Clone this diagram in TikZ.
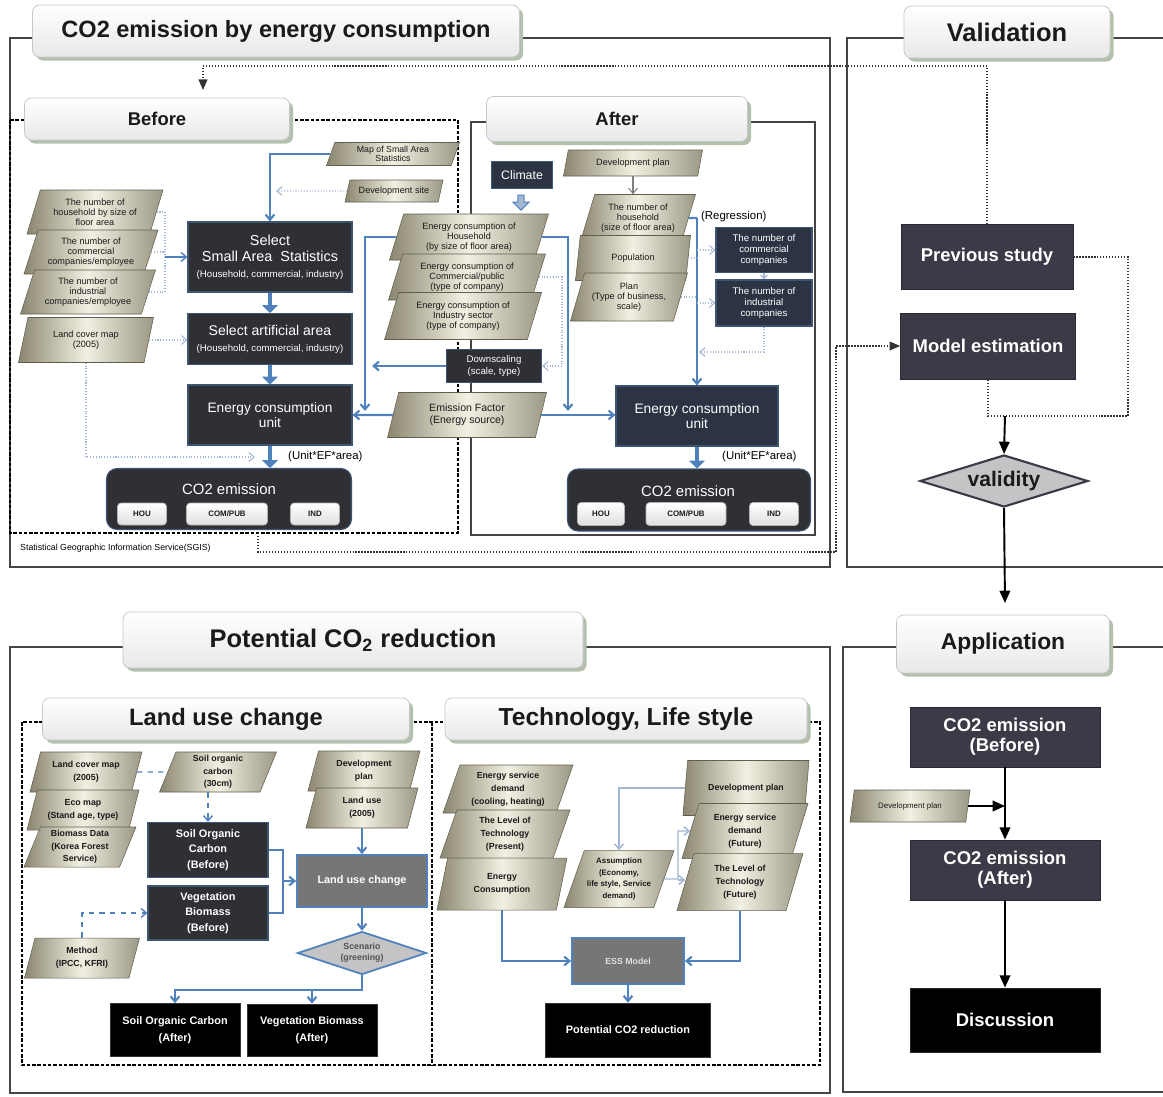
\documentclass[tikz,border=0pt]{standalone}
\usepackage{fontspec}
\setmainfont{Liberation Sans}
\usetikzlibrary{arrows.meta,positioning,shapes.geometric,shapes.arrows,shadows}
\definecolor{ink}{HTML}{1A1A1A}
\definecolor{boxdk}{HTML}{2F3034}
\definecolor{boxnv}{HTML}{2C3444}
\definecolor{boxvl}{HTML}{3B3A46}
\definecolor{flow}{HTML}{4F81BD}
\definecolor{flowlt}{HTML}{A3B6D3}
\definecolor{paradk}{HTML}{8A8670}
\definecolor{paralt}{HTML}{F2F0E2}
\definecolor{frame}{HTML}{444444}
\definecolor{shade}{HTML}{B3C0AC}
\definecolor{gbox}{HTML}{767676}
\definecolor{gdia}{HTML}{C4C4C6}
\newcommand{\fsz}[2]{\fontsize{#1}{#2}\selectfont}

\begin{document}
\begin{tikzpicture}[x=0.02cm,y=-0.02cm,
  sz/.style 2 args={minimum width=#1*0.02cm,minimum height=#2*0.02cm},
  para/.style={trapezium,trapezium left angle=65,trapezium right angle=115,trapezium stretches body,
    inner sep=0.5pt,align=center,draw=paradk!70!black,line width=0.3pt,
    left color=paradk,right color=paradk!85,middle color=paralt,text=ink,font=\fsz{5.2}{5.7}},
  lb/.style={font=\bfseries\fsz{5}{7.2}},
  tb/.style={font=\bfseries\fsz{5}{7.5}},
  dbox/.style={fill=boxdk,draw=flow!45!boxdk,line width=0.6pt,text=white,align=center,inner sep=1pt},
  kbox/.style={fill=black,draw=black!80,text=white,align=center,inner sep=1pt,font=\bfseries\fsz{6.2}{9.5}},
  vbox/.style={fill=boxvl,draw=boxvl!70!black,text=white,align=center,font=\bfseries\fsz{10.5}{11.5}},
  gbx/.style={fill=gbox,draw=flow,line width=1pt,text=white,align=center},
  wbox/.style={rounded corners=2pt,top color=white,bottom color=gray!25,draw=gray!60,text=ink,font=\bfseries\fsz{4.5}{5}},
  ttl/.style={rounded corners=4pt,draw=gray!45,top color=white,bottom color=gray!18,text=ink,
    drop shadow={shadow xshift=2pt,shadow yshift=-2pt,fill=shade,opacity=1},font=\bfseries\fsz{13.4}{15}},
  frm/.style={draw=frame,line width=0.8pt},
  dfrm/.style={draw=black,line width=0.9pt,dash pattern=on 2pt off 1pt},
  fat/.style={draw=flow,line width=2.4pt,-{Triangle[length=4.5pt,width=9pt]}},
  fl/.style={draw=flow,line width=1.2pt},
  fla/.style={fl,-{Straight Barb[length=3pt,width=5pt]}},
  dt/.style={draw=flowlt,line width=0.6pt,densely dotted},
  dta/.style={dt,-{Straight Barb[length=3pt,width=5pt]}},
  lt/.style={draw=flowlt,line width=0.8pt},
  lta/.style={lt,-{Straight Barb[length=3pt,width=5pt]}},
  dsh/.style={draw=flow,line width=0.8pt,dashed},
  bd/.style={draw=black!80,line width=0.7pt,densely dotted},
  bda/.style={bd,-{Triangle[length=6pt,width=5pt]}},
  ba/.style={draw=black,line width=1.1pt,-{Triangle[length=7pt,width=6pt]}}]
  \useasboundingbox (0,0) rectangle (1163,1096);

  % frames
  \draw[frm] (10,38) rectangle (830,567);
  \draw[frm] (1163,38) -- (847,38) -- (847,567) -- (1163,567);
  \draw[frm] (10,647) rectangle (830,1093);
  \draw[frm] (1163,647) -- (843,647) -- (843,1092) -- (1163,1092);
  \draw[dfrm] (10,120) rectangle (458,533);
  \draw[frm,line width=0.6pt] (471,122) rectangle (815,535);
  \draw[dfrm] (22,722) rectangle (820,1065);
  \draw[dfrm] (432,722) -- (432,1065);

  % titles
  \node[ttl,sz={487}{52}] (tco) at (276,31) {CO2 emission by energy consumption};
  \node[ttl,sz={265}{42},font=\bfseries\fsz{10.5}{11}] (tbef) at (157,119) {Before};
  \node[ttl,sz={261}{45},font=\bfseries\fsz{10.5}{11}] (taft) at (617,119) {After};
  \node[ttl,sz={206}{52},font=\bfseries\fsz{14.5}{16}] (tval) at (1007,32) {Validation};
  \node[ttl,sz={460}{56},font=\bfseries\fsz{14.5}{16}] (tpot) at (353,640) {Potential CO\textsubscript{2} reduction};
  \node[ttl,sz={367}{42},font=\bfseries\fsz{13.5}{15}] (tlnd) at (226,719) {Land use change};
  \node[ttl,sz={362}{42},font=\bfseries\fsz{14}{15}] (ttec) at (626,719) {Technology, Life style};
  \node[ttl,sz={213}{58},font=\bfseries\fsz{13}{15}] (tapp) at (1003,644) {Application};

  % ---- before ----
  \node[para,sz={136}{44}] (nhh) at (95,212) {The number of\\household by size of\\floor area};
  \node[para,sz={134}{44}] (ncm) at (91,252) {The number of\\commercial\\companies/employee};
  \node[para,sz={135}{44}] (nin) at (88,292) {The number of\\industrial\\companies/employee};
  \node[para,sz={135}{45}] (lcm) at (86,340) {Land cover map\\(2005)};
  \node[dbox,sz={164}{70},font=\fsz{8.2}{9}] (sel) at (270,257) {Select\\Small Area\ \ Statistics\\{\fsz{5.5}{6.5}(Household, commercial, industry)}};
  \node[dbox,sz={164}{51},font=\fsz{8}{9}] (art) at (270,339) {Select artificial area\\{\fsz{5.5}{6.5}(Household, commercial, industry)}};
  \node[dbox,sz={164}{60},font=\fsz{7.8}{8.5}] (ecu) at (270,415) {Energy consumption\\unit};
  \node[dbox,rounded corners=6pt,sz={245}{61}] (co2b) at (229,499) {};
  \node[text=white,font=\fsz{8.5}{9}] (co2bt) at (229,489) {CO2 emission};
  \foreach \nm/\cx/\w/\t in {hou1/142/49/HOU,cpb1/227/81/{COM/PUB},ind1/315/49/IND}
    \node[wbox,sz={\w}{22}] (\nm) at (\cx,514) {\t};
  \node[para,sz={133}{23},font=\fsz{5}{5.5}] (msa) at (393,154) {Map of Small Area\\Statistics};
  \node[para,sz={98}{22}] (dst) at (394,191) {Development site};
  \node[para,sz={159}{46}] (ech) at (469,237) {Energy consumption of\\Household\\(by size of floor area)};
  \node[para,sz={157}{46}] (ecc) at (467,277) {Energy consumption of\\Commercial/public\\(type of company)};
  \node[para,sz={157}{47}] (eci) at (463,316) {Energy consumption of\\Industry sector\\(type of company)};
  \node[dbox,sz={95}{33},font=\fsz{5.5}{6.5}] (dsc) at (494,366) {Downscaling\\(scale, type)};
  \node[para,sz={159}{45},font=\fsz{6}{7}] (emf) at (467,415) {Emission Factor\\(Energy source)};
  \node[anchor=west,font=\fsz{6.5}{7}] (uef1) at (282,457) {(Unit*EF*area)};
  \node[anchor=west,font=\fsz{5}{6}] (sgis) at (14,548) {Statistical Geographic Information Service(SGIS)};

  % ---- after ----
  \node[fill=boxnv,draw=flow!50!boxnv,text=white,sz={61}{27},font=\fsz{7}{8}] (clm) at (522,175) {Climate};
  \node[single arrow,shape border rotate=270,fill=flowlt,draw=flow,line width=0.6pt,
    minimum height=0.3cm,minimum width=0.32cm,single arrow head extend=2pt,inner sep=1pt] (clar) at (521,201) {};
  \node[para,sz={139}{26}] (dpl) at (633,163) {Development plan};
  \node[para,sz={115}{47}] (ahh) at (638,218) {The number of\\household\\(size of floor area)};
  \node[para,sz={115}{45}] (pop) at (633,258) {Population};
  \node[para,sz={117}{48}] (pln) at (629,297) {Plan\\(Type of business,\\scale)};
  \node[dbox,fill=boxnv,sz={96}{45},font=\fsz{5.5}{6.5}] (acm) at (764,250) {The number of\\commercial\\companies};
  \node[dbox,fill=boxnv,sz={96}{46},font=\fsz{5.5}{6.5}] (aid) at (764,303) {The number of\\industrial\\companies};
  \node[dbox,fill=boxnv,sz={162}{60},font=\fsz{7.8}{8.5}] (ecua) at (697,416) {Energy consumption\\unit};
  \node[dbox,rounded corners=6pt,sz={243}{62}] (co2a) at (689,500) {};
  \node[text=white,font=\fsz{8.5}{9}] (co2at) at (688,491) {CO2 emission};
  \foreach \nm/\cx/\w/\t in {hou2/601/47/HOU,cpb2/686/80/{COM/PUB},ind2/774/49/IND}
    \node[wbox,sz={\w}{23}] (\nm) at (\cx,514) {\t};
  \node[anchor=west,inner sep=1pt,font=\fsz{6.5}{7}] (rgl) at (699,217) {(Regression)};
  \node[anchor=west,font=\fsz{6.5}{7}] (uef2) at (716,457) {(Unit*EF*area)};

  % before / after connectors
  \draw[fla] (msa.west) -| (sel.north);
  \coordinate (dsend) at (276,191);
  \draw[dta] (dst.west) -- (dsend);
  \coordinate (brk) at (165,257);
  \draw[dt] (nhh.east) -| (brk) |- (nin.east);
  \draw[dt] (ncm.east) -- (ncm.east -| brk);
  \draw[fla,line width=0.8pt] (brk) -- (sel.west);
  \draw[dta] (lcm.east) -- (lcm.east -| art.west);
  \coordinate (lcend) at (255,457);
  \draw[dta] (lcm.south) |- (lcend);
  \draw[fat] (sel.south) -- (art.north);
  \draw[fat] (art.south) -- (ecu.north);
  \draw[fat] (ecu.south) -- (ecu.south |- co2b.north);
  \coordinate (ehl) at (365,411);
  \draw[fla] (ech.west) -| (ehl);
  \coordinate (dsl) at (372,366);
  \draw[fla] (dsc.west) -- (dsl);
  \draw[fla] (emf.west) -- (ecu.east);
  \coordinate (ehr) at (568,411);
  \draw[fla] (ech.east) -| (ehr);
  \draw[fla] (emf.east) -- (emf.east -| ecua.west);
  \draw[dta] (ecc.east) -| (562,366) -- (dsc.east);
  \draw[gray,line width=0.6pt,-{Straight Barb[length=3pt,width=5pt]}] (dpl.south) -- (dpl.south |- ahh.north);
  \coordinate (rg) at (697,218);
  \draw[fl] (ahh.east) -- (rg);
  \draw[fla] (rg) -- (rg |- ecua.north);
  \draw[dt] (pop.east) -- (pop.east -| rg);
  \draw[dt] (pln.east) -- (pln.east -| rg);
  \draw[dta] (rg |- acm.west) -- (acm.west);
  \draw[dta] (rg |- aid.west) -- (aid.west);
  \draw[flowlt,line width=0.6pt,-{Straight Barb[length=2pt,width=4pt]}] (acm.south) -- (aid.north);
  \coordinate (aidend) at (699,352);
  \draw[dta] (aid.south) |- (aidend);
  \draw[fat] (ecua.south) -- (ecua.south |- co2a.north);

  % ---- validation ----
  \node[vbox,sz={172}{65}] (prv) at (987,257) {Previous study};
  \node[vbox,sz={175}{66}] (mdl) at (988,346) {Model estimation};
  \node[diamond,aspect=3.2,fill=gdia,draw=boxvl,line width=1.2pt,sz={168}{52},inner sep=0pt,
    font=\bfseries\fsz{12}{12},text=ink] (vld) at (1004,481) {validity};
  \coordinate (bfin) at (203,90);
  \draw[bda] (prv.north) |- (203,66) -- (bfin);
  \draw[bd] (prv.east) -| (1128,416) -| (mdl.south);
  \coordinate (vj) at (1005,416);
  \draw[ba] (vj) -- (vld.north);
  \coordinate (vout) at (1005,603);
  \draw[ba] (vld.south) -- (vout);
  \coordinate (sgs) at (258,533);
  \draw[bda] (sgs) |- (836,552) |- (mdl.west);

  % ---- land use change ----
  \node[para,lb,sz={112}{40}] (lcm2) at (86,772) {Land cover map\\(2005)};
  \node[para,lb,sz={112}{40}] (eco) at (83,810) {Eco map\\(Stand age, type)};
  \node[para,lb,sz={112}{40}] (bio) at (80,847) {Biomass Data\\(Korea Forest\\Service)};
  \node[para,lb,sz={117}{40}] (soc) at (218,772) {Soil organic\\carbon\\(30cm)};
  \node[para,lb,sz={112}{40}] (dev2) at (364,771) {Development\\plan};
  \node[para,lb,sz={112}{40}] (lu) at (362,808) {Land use\\(2005)};
  \node[dbox,sz={120}{55},font=\bfseries\fsz{6.2}{9}] (socb) at (208,850) {Soil Organic\\Carbon\\(Before)};
  \node[dbox,sz={120}{54},font=\bfseries\fsz{6.2}{9}] (vegb) at (208,913) {Vegetation\\Biomass\\(Before)};
  \node[gbx,sz={130}{52},font=\bfseries\fsz{6.2}{7}] (luc) at (362,881) {Land use change};
  \node[para,lb,sz={115}{40}] (mth) at (82,958) {Method\\(IPCC, KFRI)};
  \node[diamond,aspect=3,fill=gdia,draw=flow,line width=1pt,sz={129}{43},inner sep=0pt,align=center,
    font=\bfseries\fsz{5}{6.5},text=ink!75] (scn) at (362,953) {Scenario\\(greening)};
  \node[kbox,sz={130}{53}] (soca) at (175,1030) {Soil Organic Carbon\\(After)};
  \node[kbox,sz={130}{52}] (vega) at (312,1030) {Vegetation Biomass\\(After)};
  \draw[dsh] (lcm2.east) -- (soc.west);
  \draw[dsh,-{Straight Barb[length=3pt,width=5pt]}] (socb.north |- soc.south) -- (socb.north);
  \coordinate (lj) at (283,881);
  \draw[fl] (socb.east) -| (lj);
  \draw[fl] (vegb.east) -| (lj);
  \draw[fla] (lj) -- (luc.west);
  \draw[dsh,-{Straight Barb[length=3pt,width=5pt]}] (mth.north) |- (vegb.west);
  \draw[fla] (lu.south) -- (lu.south |- luc.north);
  \draw[fla] (luc.south) -- (scn.north);
  \coordinate (sj) at (362,990);
  \draw[fla] (scn.south) -- (sj) -| (soca.north);
  \draw[fla] (vega.north |- sj) -- (vega.north);

  % ---- technology, life style ----
  \node[para,tb,sz={130}{48}] (esd) at (508,789) {Energy service\\demand\\(cooling, heating)};
  \node[para,tb,sz={130}{48}] (lvp) at (505,834) {The Level of\\Technology\\(Present)};
  \node[para,tb,sz={130}{52}] (ecn) at (502,884) {Energy\\Consumption};
  \node[para,tb,sz={110}{57},font=\bfseries\fsz{4.5}{6.5}] (asm) at (619,879) {Assumption\\(Economy,\\life style, Service\\demand)};
  \node[para,tb,sz={126}{55}] (dpt) at (746,788) {Development plan};
  \node[para,tb,sz={126}{55}] (esf) at (745,831) {Energy service\\demand\\(Future)};
  \node[para,tb,sz={126}{57}] (lvf) at (740,882) {The Level of\\Technology\\(Future)};
  \node[gbx,sz={112}{46},font=\bfseries\fsz{5}{6},text=gray!25] (ess) at (628,961) {ESS Model};
  \node[kbox,sz={165}{54}] (pcr) at (628,1030) {Potential CO2 reduction};
  \draw[lta] (dpt.west) -| (asm.north);
  \coordinate (aj) at (678,880);
  \draw[lta] (asm.east) -| (678,831) -- (esf.west);
  \draw[lta] (aj) -- (aj -| lvf.west);
  \draw[fla] (ecn.south) |- (ess.west);
  \draw[fla] (lvf.south) |- (ess.east);
  \draw[fla] (ess.south) -- (pcr.north);

  % ---- application ----
  \node[vbox,sz={190}{60}] (cbf) at (1005,737) {CO2 emission\\(Before)};
  \node[para,sz={120}{32},font=\fsz{4.5}{5}] (dpa) at (910,806) {Development plan};
  \node[vbox,sz={190}{60}] (caf) at (1005,870) {CO2 emission\\(After)};
  \node[vbox,fill=black,sz={190}{64}] (dsn) at (1005,1020) {Discussion};
  \draw[ba] (cbf.south) -- (caf.north);
  \draw[ba] (dpa.east) -- (dpa.east -| cbf.south);
  \draw[ba] (caf.south) -- (dsn.north);
\end{tikzpicture}
\end{document}
